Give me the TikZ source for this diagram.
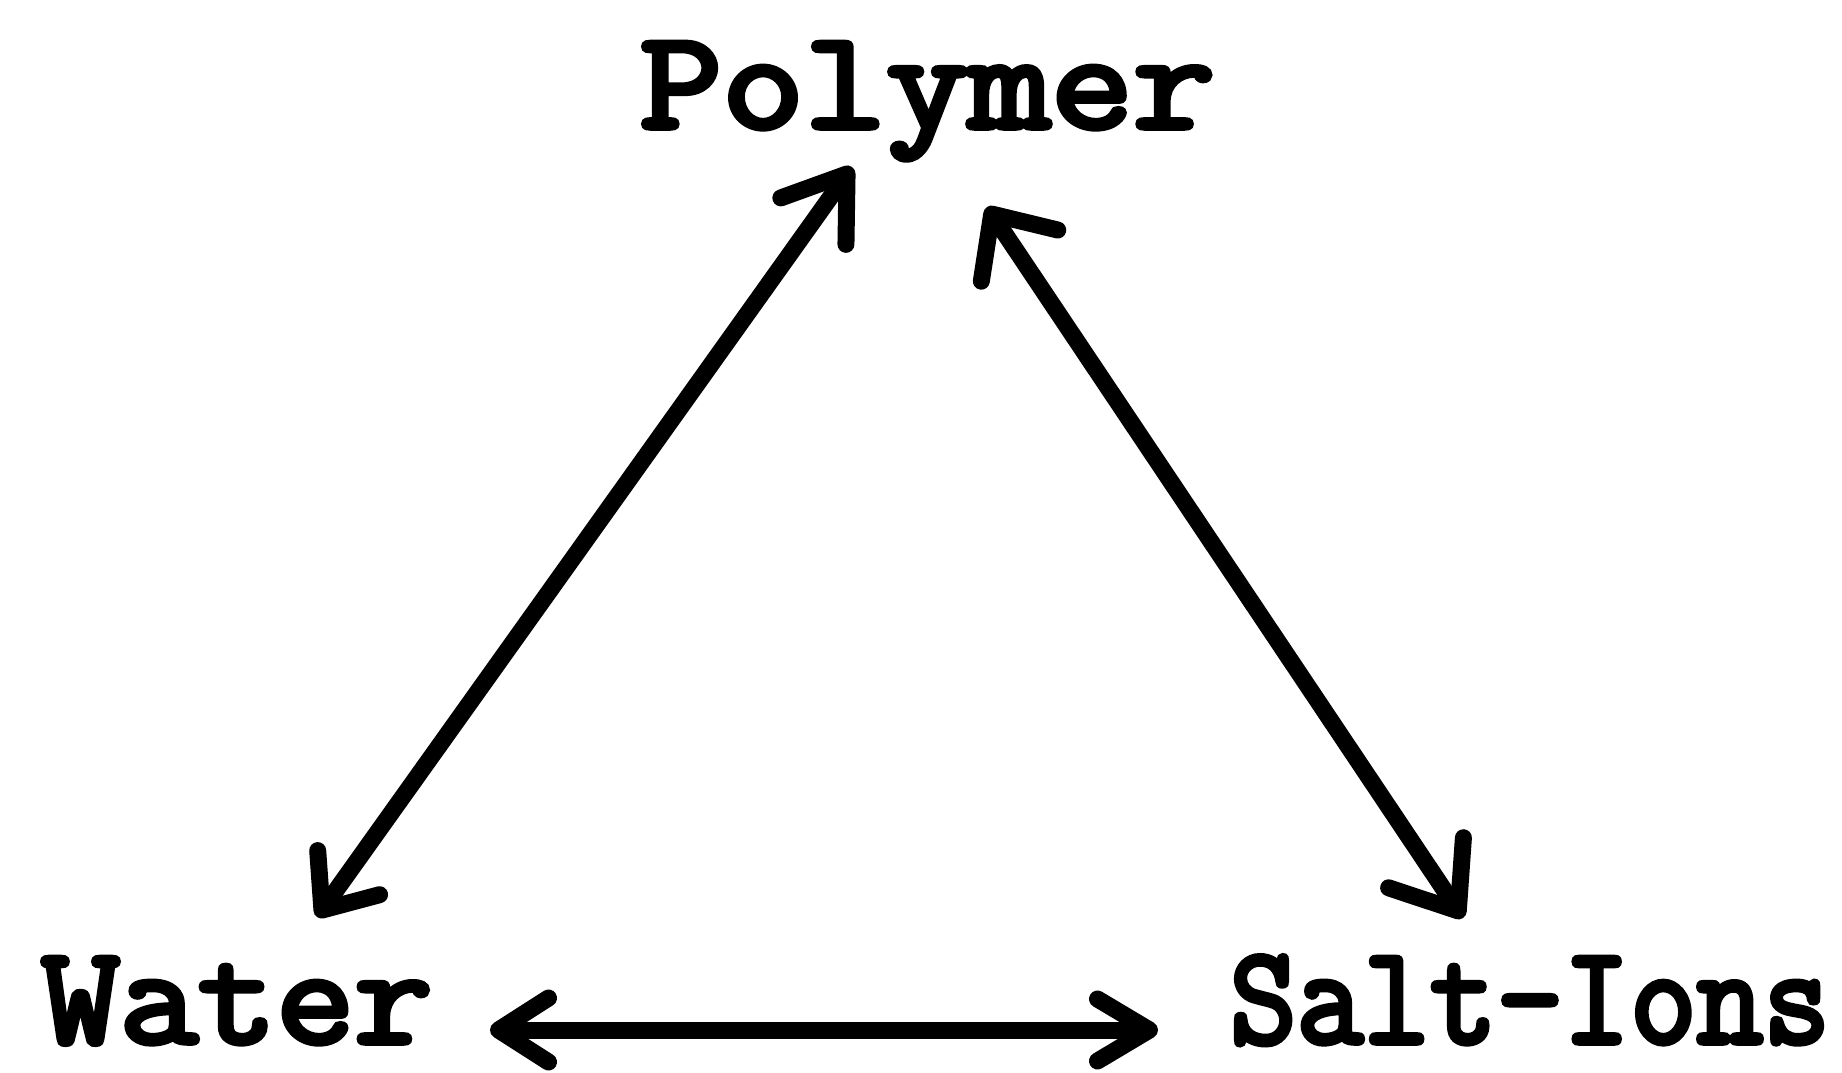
\documentclass[tikz,border=0pt]{standalone}
\usepackage{fontspec}
\newfontfamily\twfont{Latin Modern Mono}[FakeBold=4]
\usetikzlibrary{arrows.meta}
\begin{document}
\begin{tikzpicture}[x=1pt,y=-1pt,
  lbl/.style={inner sep=0pt, anchor=base, font=\fontsize{140}{150}\selectfont\twfont},
  conn/.style={line width=17pt, line cap=round}]
\fill[white] (0,0) rectangle (1842,1073);
\useasboundingbox (0,0) rectangle (1842,1073);
\node[lbl] (poly) at (927.5,128) {\scalebox{1.14}[1]{Polymer}};
\node[lbl] (water) at (237,1043) {\scalebox{1.085}[1]{Water}};
\node[lbl] (salt) at (1530,1043) {\scalebox{0.925}[1]{Salt-Ions}};
\coordinate (pL) at (852,167);
\coordinate (wT) at (317,917);
\coordinate (pR) at (987,207);
\coordinate (sT) at (1463,918);
\coordinate (wR) at (490,1030);
\coordinate (sL) at (1158,1030);
\draw[conn, {Straight Barb[length=58pt,width=80pt,round]}-{Straight Barb[length=46pt,width=76pt,round]}] (pL) -- (wT);
\draw[conn, {Straight Barb[length=50pt,width=92pt,round]}-{Straight Barb[length=58pt,width=90pt,round]}] (pR) -- (sT);
\draw[conn, {Straight Barb[length=50pt,width=64pt,round]}-{Straight Barb[length=52pt,width=62pt,round]}] (wR) -- (sL);
\end{tikzpicture}
\end{document}
